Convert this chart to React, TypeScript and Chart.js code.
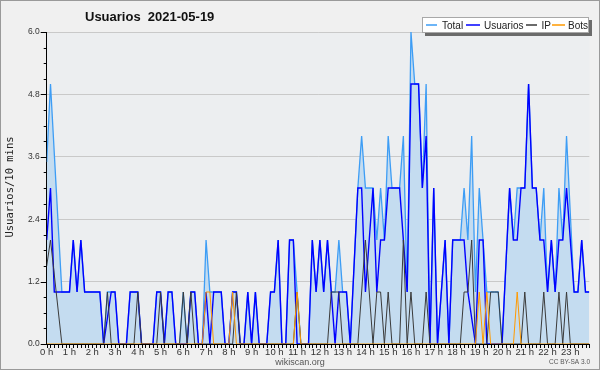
import React, { useEffect, useRef } from "react";
import { Chart, registerables } from "chart.js";

Chart.register(...registerables);

// 10-minute slots of the day (0 = 00:00 ... 143 = 23:50)
const SLOTS: number[] = Array.from({ length: 144 }, (_, i) => i);
const HOUR_LABELS = [
  "0 h", "1 h", "2 h", "3 h", "4 h", "5 h", "6 h", "7 h", "8 h", "9 h", "10 h", "11 h",
  "12 h", "13 h", "14 h", "15 h", "16 h", "17 h", "18 h", "19 h", "20 h", "21 h", "22 h", "23 h",
];
const Y_TICKS = [0, 1.2, 2.4, 3.6, 4.8, 6.0];

const TOTAL: (number | null)[] = [
  3.5, 5, null, null, 1, 1, 1, 2, 1, 2, 1, 1,
  1, 1, 1, 0, 1, 1, 1, 0, 0, 0, 1, 1,
  1, 0, 0, 0, 0, 1, 1, 0, 1, 1, 0, 0,
  1, 0, 1, 1, 0, 0, 2, 1, 1, 1, 1, 0,
  0, 1, 1, 0, 0, 1, 0, 1, 0, 0, 0, 1,
  1, 2, 0, 0, 2, 2, 1, 0, 0, 0, 2, 1,
  2, 1, 2, 1, 1, 2, 1, 1, 0, null, 3, 4,
  3, 3, 3, 2, 3, 2, 4, 3, 3, 3, 4, 1,
  6, 5, 5, 3, 5, 0, 3, 0, null, 2, 0, 2,
  2, 2, 3, 2, 4, 1, 3, 2, 1, 1, 1, 1,
  0, null, 3, 2, 3, 3, 3, 5, 3, 3, 2, 3,
  1, 2, 1, 3, 2, 4, null, 1, 1, 2, 1, 1,
];

const USUARIOS: (number | null)[] = [
  2, 3, 1, 1, 1, 1, 1, 2, 1, 2, 1, 1,
  1, 1, 1, 0, null, 1, 1, 0, 0, 0, 1, 1,
  1, 0, 0, 0, 0, 1, 1, 0, 1, 1, 0, 0,
  0, 0, 1, 1, 0, 0, 1, 0, 1, 1, 1, 0,
  0, 1, 1, 0, 0, 1, 0, 1, 0, 0, 0, 1,
  1, 2, 0, 0, 2, 2, 0, 0, 0, 0, 2, 1,
  2, 1, 2, null, 0, 1, 1, 1, 0, null, 3, 3,
  1, null, 3, 1, 2, 2, 3, 3, 3, 3, null, 1,
  5, 5, 5, 3, 4, 0, 3, 0, null, 2, 0, 2,
  2, 2, 2, 1, null, 0, 2, 2, 0, 0, 0, 0,
  0, null, 3, 2, 2, 3, 3, 5, 3, 3, 2, 2,
  1, 2, 1, 2, 2, 3, null, 1, 1, 2, 1, 1,
];

const IP: (number | null)[] = [
  1.5, 2, null, null, 0, 0, 0, 0, 0, 0, 0, 0,
  0, 0, 0, 0, 1, 0, 0, 0, 0, 0, 0, 0,
  1, 0, 0, 0, 0, 0, 1, 0, 0, 0, 0, 0,
  1, 0, 1, 0, 0, 0, 0, 0, 0, 0, 0, 0,
  0, 0, 1, 0, 0, 0, 0, 0, 0, 0, 0, 0,
  0, 0, 0, 0, 0, 0, 1, 0, 0, 0, 0, 0,
  0, 0, 0, 1, 1, 1, 0, 0, 0, 0, 0, null,
  2, null, 0, 1, 1, 0, 1, 0, 0, 0, 2, 0,
  1, 0, 0, 0, 1, 0, 0, 0, 0, 0, 0, 0,
  0, 0, 1, 1, 2, 0, 0, 0, 0, 1, 1, 1,
  0, 0, 0, 0, 0, 0, 1, 0, 0, 0, 0, 1,
  0, 0, 0, 1, 0, 1, 0, 0, 0, 0, 0, 0,
];

const BOTS: (number | null)[] = [
  0, 0, 0, 0, 0, 0, 0, 0, 0, 0, 0, 0,
  0, 0, 0, 0, 0, 0, 0, 0, 0, 0, 0, 0,
  0, 0, 0, 0, 0, 0, 0, 0, 0, 0, 0, 0,
  0, 0, 0, 0, 0, 0, 1, 1, 0, 0, 0, 0,
  0, 1, 0, 0, 0, 0, 0, 0, 0, 0, 0, 0,
  0, 0, 0, 0, 0, 0, 1, 0, 0, 0, 0, 0,
  0, 0, 0, 0, 0, 0, 0, 0, 0, 0, 0, 0,
  0, 0, 0, 0, 0, 0, 0, 0, 0, 0, 0, 0,
  0, 0, 0, 0, 0, 0, 0, 0, 0, 0, 0, 0,
  0, 0, 0, 0, 0, 0, 1, 0, 1, 0, 0, 0,
  0, 0, 0, 0, 1, 0, 0, 0, 0, 0, 0, 0,
  0, 0, 0, 0, 0, 0, 0, 0, 0, 0, 0, 0,
];

const SERIES = [
  { label: "Total", color: "#3d9df5" },
  { label: "Usuarios", color: "#0000ff" },
  { label: "IP", color: "#3a3a3a" },
  { label: "Bots", color: "#ff9a00" },
];

const FONT = "'Liberation Sans', Arial, sans-serif";
const LAST_SLOT = SLOTS[SLOTS.length - 1];

const decorPlugin = {
  id: "decor",
  beforeDraw(chart: any) {
    const { ctx, chartArea: a, width, height } = chart;
    ctx.save();
    ctx.fillStyle = "#f0f0f0";
    ctx.fillRect(0, 0, width, height);
    ctx.fillStyle = "#eceef0";
    ctx.fillRect(a.left, a.top, a.right - a.left, a.bottom - a.top);
    ctx.restore();
  },
  afterDraw(chart: any) {
    const { ctx, chartArea: a, width, height } = chart;
    const x = chart.scales.x;
    const y = chart.scales.y;
    ctx.save();
    // axis tick marks
    ctx.strokeStyle = "#000";
    ctx.lineWidth = 1;
    ctx.beginPath();
    for (let k = 0; k <= 20; k++) {
      const py = Math.round(y.getPixelForValue(k * 0.3)) + 0.5;
      const len = k % 4 === 0 ? 6 : 3;
      ctx.moveTo(a.left - len, py);
      ctx.lineTo(a.left, py);
    }
    for (let k = 0; k <= LAST_SLOT; k++) {
      const px = Math.round(x.getPixelForValue(k)) + 0.5;
      ctx.moveTo(px, a.bottom);
      ctx.lineTo(px, a.bottom + 4);
    }
    ctx.stroke();

    // title
    ctx.fillStyle = "#111";
    ctx.font = `bold 13px ${FONT}`;
    ctx.textBaseline = "alphabetic";
    ctx.textAlign = "left";
    ctx.fillText("Usuarios  2021-05-19", 85, 21);

    // y axis title
    ctx.save();
    ctx.translate(13, 187);
    ctx.rotate(-Math.PI / 2);
    ctx.font = "10.5px 'DejaVu Sans Mono', monospace";
    ctx.textAlign = "center";
    ctx.fillStyle = "#222";
    ctx.fillText("Usuarios/10 mins", 0, 0);
    ctx.restore();

    // footer
    ctx.font = `9px ${FONT}`;
    ctx.fillStyle = "#555";
    ctx.textAlign = "center";
    ctx.fillText("wikiscan.org", 300, 365);
    ctx.font = `6.5px ${FONT}`;
    ctx.textAlign = "right";
    ctx.fillText("CC BY-SA 3.0", 590, 364);

    // legend
    const lx = 422, ly = 17, lw = 167, lh = 16;
    ctx.fillStyle = "#6b6b6b";
    ctx.fillRect(lx + 3, ly + 3, lw, lh);
    ctx.fillStyle = "#ffffff";
    ctx.fillRect(lx, ly, lw, lh);
    ctx.strokeStyle = "#a8a8a8";
    ctx.lineWidth = 1;
    ctx.strokeRect(lx + 0.5, ly + 0.5, lw - 1, lh - 1);
    const items = [
      { x0: 426, x1: 437, tx: 442 },
      { x0: 466, x1: 480, tx: 484 },
      { x0: 526, x1: 537, tx: 541.5 },
      { x0: 552, x1: 565, tx: 568 },
    ];
    ctx.font = `10px ${FONT}`;
    ctx.textAlign = "left";
    items.forEach((it, i) => {
      ctx.strokeStyle = SERIES[i].color;
      ctx.lineWidth = 1.5;
      ctx.beginPath();
      ctx.moveTo(it.x0, ly + 8);
      ctx.lineTo(it.x1, ly + 8);
      ctx.stroke();
      ctx.fillStyle = "#222";
      ctx.fillText(SERIES[i].label, it.tx, ly + 12);
    });

    // outer frame
    ctx.strokeStyle = "#9a9a9a";
    ctx.lineWidth = 1;
    ctx.strokeRect(0.5, 0.5, width - 1, height - 1);
    ctx.restore();
  },
};

export default function App() {
  const ref = useRef<HTMLCanvasElement | null>(null);
  useEffect(() => {
    document.body.style.margin = "0";
    const canvas = ref.current;
    if (!canvas) return;
    const common = { pointRadius: 0, spanGaps: true, tension: 0 };
    const chart = new Chart(canvas, {
      type: "line",
      data: {
        labels: SLOTS,
        datasets: [
          {
            ...common,
            label: SERIES[0].label,
            data: TOTAL,
            borderColor: SERIES[0].color,
            backgroundColor: "#c4dcf0",
            borderWidth: 1.3,
            fill: "origin",
            order: 4,
          },
          {
            ...common,
            label: SERIES[1].label,
            data: USUARIOS,
            borderColor: SERIES[1].color,
            borderWidth: 1.4,
            fill: false,
            order: 3,
          },
          {
            ...common,
            label: SERIES[2].label,
            data: IP,
            borderColor: SERIES[2].color,
            borderWidth: 1,
            fill: false,
            order: 2,
          },
          {
            ...common,
            label: SERIES[3].label,
            data: BOTS,
            borderColor: SERIES[3].color,
            borderWidth: 1,
            fill: false,
            order: 1,
          },
        ],
      },
      options: {
        responsive: false,
        animation: false,
        events: [],
        layout: { padding: { left: 0, right: 10.7, top: 32, bottom: 0 } },
        plugins: {
          legend: { display: false },
          title: { display: false },
          tooltip: { enabled: false },
        },
        scales: {
          x: {
            type: "linear",
            min: 0,
            max: LAST_SLOT,
            afterFit: (s: any) => {
              s.height = 26;
            },
            afterBuildTicks: (s: any) => {
              s.ticks = HOUR_LABELS.map((_, h) => ({ value: h * 6 }));
            },
            grid: { display: false, drawTicks: false },
            border: { display: true, color: "#000", width: 1 },
            ticks: {
              autoSkip: false,
              maxRotation: 0,
              padding: 3,
              color: "#333",
              font: { family: FONT, size: 9.5 },
              callback: (v: any) => HOUR_LABELS[Math.round(Number(v) / 6)] ?? "",
            },
          },
          y: {
            min: 0,
            max: 6,
            afterFit: (s: any) => {
              s.width = 46.7;
            },
            afterBuildTicks: (s: any) => {
              s.ticks = Y_TICKS.map((v) => ({ value: v }));
            },
            grid: { color: "#c9c9c9", drawTicks: false, lineWidth: 1 },
            border: { display: true, color: "#000", width: 1 },
            ticks: {
              padding: 7,
              color: "#333",
              font: { family: FONT, size: 8.5 },
              callback: (v: any) => Number(v).toFixed(1),
            },
          },
        },
      },
      plugins: [decorPlugin],
    });
    return () => chart.destroy();
  }, []);
  return <canvas ref={ref} width={600} height={370} style={{ display: "block" }} />;
}
